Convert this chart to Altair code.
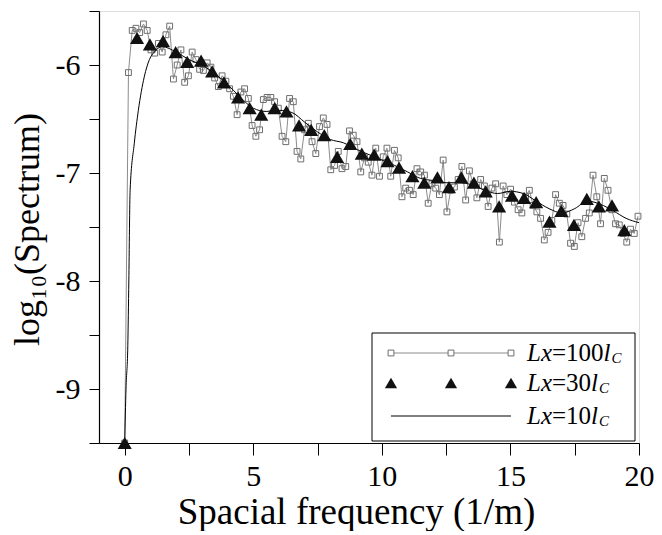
import altair as alt
import pandas as pd

# ---------------- data ----------------
# Lx = 100 lc : regular frequency grid, noisy spectrum estimate
FREQ_STEP_100 = 0.1457
spec_100 = [
    -9.50, -6.07, -5.68, -5.66, -5.70, -5.62, -5.68, -5.86, -5.89, -5.80,
    -5.88, -5.72, -5.64, -6.13, -6.00, -5.86, -6.16, -6.10, -5.88, -5.95,
    -6.04, -6.05, -5.98, -6.02, -6.12, -6.20, -6.10, -6.15, -6.22, -6.29,
    -6.46, -6.25, -6.22, -6.31, -6.56, -6.66, -6.60, -6.32, -6.30, -6.30,
    -6.34, -6.40, -6.66, -6.71, -6.31, -6.34, -6.80, -6.87, -6.60, -6.54,
    -6.71, -6.82, -6.57, -6.49, -6.55, -6.97, -6.93, -6.80, -6.96, -6.94,
    -6.61, -6.65, -6.71, -6.99, -6.86, -6.90, -7.02, -6.77, -7.03, -6.85,
    -6.77, -7.03, -6.79, -6.86, -7.22, -7.14, -7.16, -7.20, -6.96, -6.99,
    -7.02, -7.28, -7.10, -7.14, -7.20, -6.88, -7.36, -7.16, -7.13, -7.06,
    -6.94, -7.25, -6.98, -7.10, -7.23, -7.06, -7.12, -7.31, -7.14, -7.10,
    -7.64, -7.12, -7.20, -7.15, -7.27, -7.34, -7.37, -7.22, -7.16, -7.30,
    -7.36, -7.42, -7.62, -7.55, -7.44, -7.20, -7.28, -7.30, -7.38, -7.65,
    -7.68, -7.46, -7.59, -7.42, -7.37, -7.02, -7.22, -7.47, -7.05, -7.16,
    -7.34, -7.47, -7.48, -7.56, -7.64, -7.52, -7.56, -7.40,
]
freq_100 = [round(i * FREQ_STEP_100, 4) for i in range(len(spec_100))]

# Lx = 30 lc : triangles
freq_30 = [0.00, 0.48, 0.98, 1.49, 1.98, 2.43, 2.97, 3.40, 3.86, 4.41,
           4.86, 5.31, 5.83, 6.29, 6.78, 7.25, 7.76, 8.26, 8.77, 9.22,
           9.70, 10.22, 10.67, 11.19, 11.65, 12.16, 12.61, 13.09, 13.58, 14.04,
           14.56, 15.06, 15.53, 16.00, 16.52, 16.98, 17.47, 17.97, 18.44, 18.95,
           19.43]
spec_30 = [-9.50, -5.75, -5.81, -5.78, -5.88, -5.97, -5.96, -6.06, -6.16, -6.30,
           -6.40, -6.46, -6.40, -6.43, -6.56, -6.60, -6.65, -6.85, -6.73, -6.82,
           -6.83, -6.89, -6.95, -7.03, -7.09, -7.04, -7.13, -7.04, -7.09, -7.17,
           -7.31, -7.21, -7.23, -7.27, -7.45, -7.35, -7.48, -7.24, -7.31, -7.30,
           -7.53]

# Lx = 10 lc : smooth curve
freq_10 = [0.00, 0.05, 0.12, 0.16, 0.21, 0.37, 0.53, 0.76, 0.96, 1.15,
           1.45, 2.0, 2.5, 3.0, 3.5, 4.0, 4.5, 5.0, 5.5, 6.0,
           6.5, 7.0, 7.5, 8.0, 8.5, 9.0, 9.5, 10.0, 10.5, 11.0,
           11.5, 12.0, 12.5, 13.0, 13.5, 14.0, 14.5, 15.0, 15.5, 16.0,
           16.5, 17.0, 17.5, 18.0, 18.5, 19.0, 19.5, 20.0]
spec_10 = [-9.50, -9.00, -8.60, -8.00, -7.16, -6.73, -6.42, -6.11, -5.95, -5.88,
           -5.83, -5.88, -5.95, -6.00, -6.08, -6.18, -6.30, -6.40, -6.43, -6.42,
           -6.44, -6.53, -6.62, -6.69, -6.72, -6.78, -6.83, -6.88, -6.93, -6.99,
           -7.05, -7.07, -7.09, -7.09, -7.11, -7.16, -7.19, -7.17, -7.19, -7.26,
           -7.33, -7.37, -7.33, -7.26, -7.29, -7.35, -7.42, -7.46]

x_ticks = [0, 2.5, 5, 7.5, 10, 12.5, 15, 17.5, 20]
y_ticks = [-9.5, -9, -8.5, -8, -7.5, -7, -6.5, -6, -5.5]

legend_labels = ["=100", "=30", "=10"]

# ---------------- styling ----------------
FONT = "Liberation Serif"
GRAY_LINE = "#8c8c8c"
GRAY_SQ = "#6e6e6e"
W, H = 540, 432
PLOT_LEFT = 99   # page x of plot area's left edge

df100 = pd.DataFrame({"f": freq_100, "s": spec_100})
df30 = pd.DataFrame({"f": freq_30, "s": spec_30})
df10 = pd.DataFrame({"f": freq_10, "s": spec_10})
one = pd.DataFrame({"a": [0]})

xscale = alt.Scale(domain=[-1, 20], nice=False, zero=False)
yscale = alt.Scale(domain=[-9.5, -5.5], nice=False, zero=False)

xaxis = alt.Axis(
    values=x_ticks,
    labelExpr="datum.value % 5 == 0 ? toString(datum.value) : ''",
    tickSize=12, tickColor="black", domainColor="black", domainWidth=1.2,
    labelFont=FONT, labelFontSize=30, labelColor="black", labelPadding=6,
    labelFlush=False, labelOverlap=False, grid=False,
    title="Spacial frequency (1/m)", titleFont=FONT, titleFontSize=37,
    titleFontWeight="normal", titleColor="black",
    titleX=356 - PLOT_LEFT, titleY=80, titleBaseline="alphabetic", titleAlign="center",
)
yaxis = alt.Axis(
    values=y_ticks,
    labelExpr="datum.value % 1 == 0 ? toString(datum.value) : ''",
    tickSize=10, tickColor="black", domainColor="black", domainWidth=1.2,
    labelFont=FONT, labelFontSize=30, labelColor="black", labelPadding=9,
    labelFlush=False, labelOverlap=False, grid=False,
    title="log₁₀(Spectrum)", titleFont=FONT, titleFontSize=36,
    titleFontWeight="normal", titleColor="black",
    titleAngle=-90, titleX=38 - PLOT_LEFT, titleY=H / 2 + 2, titleBaseline="alphabetic",
    titleAlign="center",
)

X = alt.X("f:Q", scale=xscale, axis=xaxis)
Y = alt.Y("s:Q", scale=yscale, axis=yaxis)

line100 = alt.Chart(df100).mark_line(color=GRAY_LINE, strokeWidth=1).encode(x=X, y=Y, order="f:Q")
sq100 = alt.Chart(df100).mark_point(shape="square", size=34, filled=False,
                                    color=GRAY_SQ, strokeWidth=1, opacity=1).encode(x=X, y=Y)
line10 = alt.Chart(df10).mark_line(color="black", strokeWidth=1,
                                   interpolate="monotone").encode(x=X, y=Y, order="f:Q")
tri30 = alt.Chart(df30).mark_point(shape="triangle-up", size=200, filled=True,
                                   color="#111111", opacity=1).encode(x=X, y=Y)

# ---------------- legend (pixel positions inside plot area) ----------------
LX0, LX1 = 372 - PLOT_LEFT, 635 - PLOT_LEFT
LY0, LY1 = 322, 430
ROWS = [342, 372, 405]
SYM = [391 - PLOT_LEFT, 451 - PLOT_LEFT, 511 - PLOT_LEFT]
TXT = 527 - PLOT_LEFT
FS = 25

layers = [line100, sq100, line10, tri30]
layers.append(alt.Chart(one).mark_rect(fill="white", stroke="black", strokeWidth=1).encode(
    x=alt.value(LX0), x2=alt.value(LX1), y=alt.value(LY0), y2=alt.value(LY1)))
layers.append(alt.Chart(one).mark_rule(color=GRAY_LINE, strokeWidth=1).encode(
    x=alt.value(SYM[0]), x2=alt.value(SYM[2]), y=alt.value(ROWS[0])))
layers.append(alt.Chart(one).mark_rule(color="black", strokeWidth=1).encode(
    x=alt.value(SYM[0]), x2=alt.value(SYM[2]), y=alt.value(ROWS[2])))
for sx in SYM:
    layers.append(alt.Chart(one).mark_point(shape="square", size=34, filled=False, fill="white",
                                            color=GRAY_SQ, strokeWidth=1, opacity=1).encode(
        x=alt.value(sx), y=alt.value(ROWS[0])))
    layers.append(alt.Chart(one).mark_point(shape="triangle-up", size=150, filled=True,
                                            color="#111111", opacity=1).encode(
        x=alt.value(sx), y=alt.value(ROWS[1])))

for txt, ry in zip(legend_labels, ROWS):
    eq_w = (0.564 + 0.5 * (len(txt) - 1)) * FS
    x_eq = TXT + 1.0 * FS
    x_l = x_eq + eq_w
    x_c = x_l + 0.278 * FS + 1
    layers.append(alt.Chart(one).mark_text(font=FONT, fontStyle="italic", fontSize=FS,
                                           align="left", baseline="middle", color="black").encode(
        x=alt.value(TXT), y=alt.value(ry), text=alt.value("Lx")))
    layers.append(alt.Chart(one).mark_text(font=FONT, fontSize=FS,
                                           align="left", baseline="middle", color="black").encode(
        x=alt.value(x_eq), y=alt.value(ry), text=alt.value(txt)))
    layers.append(alt.Chart(one).mark_text(font=FONT, fontStyle="italic", fontSize=FS,
                                           align="left", baseline="middle", color="black").encode(
        x=alt.value(x_l), y=alt.value(ry), text=alt.value("l")))
    layers.append(alt.Chart(one).mark_text(font=FONT, fontStyle="italic", fontSize=15,
                                           align="left", baseline="middle", color="black").encode(
        x=alt.value(x_c), y=alt.value(ry + 5), text=alt.value("C")))

chart = alt.layer(*layers).properties(
    width=W, height=H,
    autosize=alt.AutoSizeParams(type="none"),
    padding={"left": PLOT_LEFT - 8, "top": 3, "right": 15, "bottom": 88},
).configure_view(stroke="#555555", strokeWidth=1.5).configure(background="white")

chart.save("out.html", embed_options={"renderer": "svg", "actions": False})
